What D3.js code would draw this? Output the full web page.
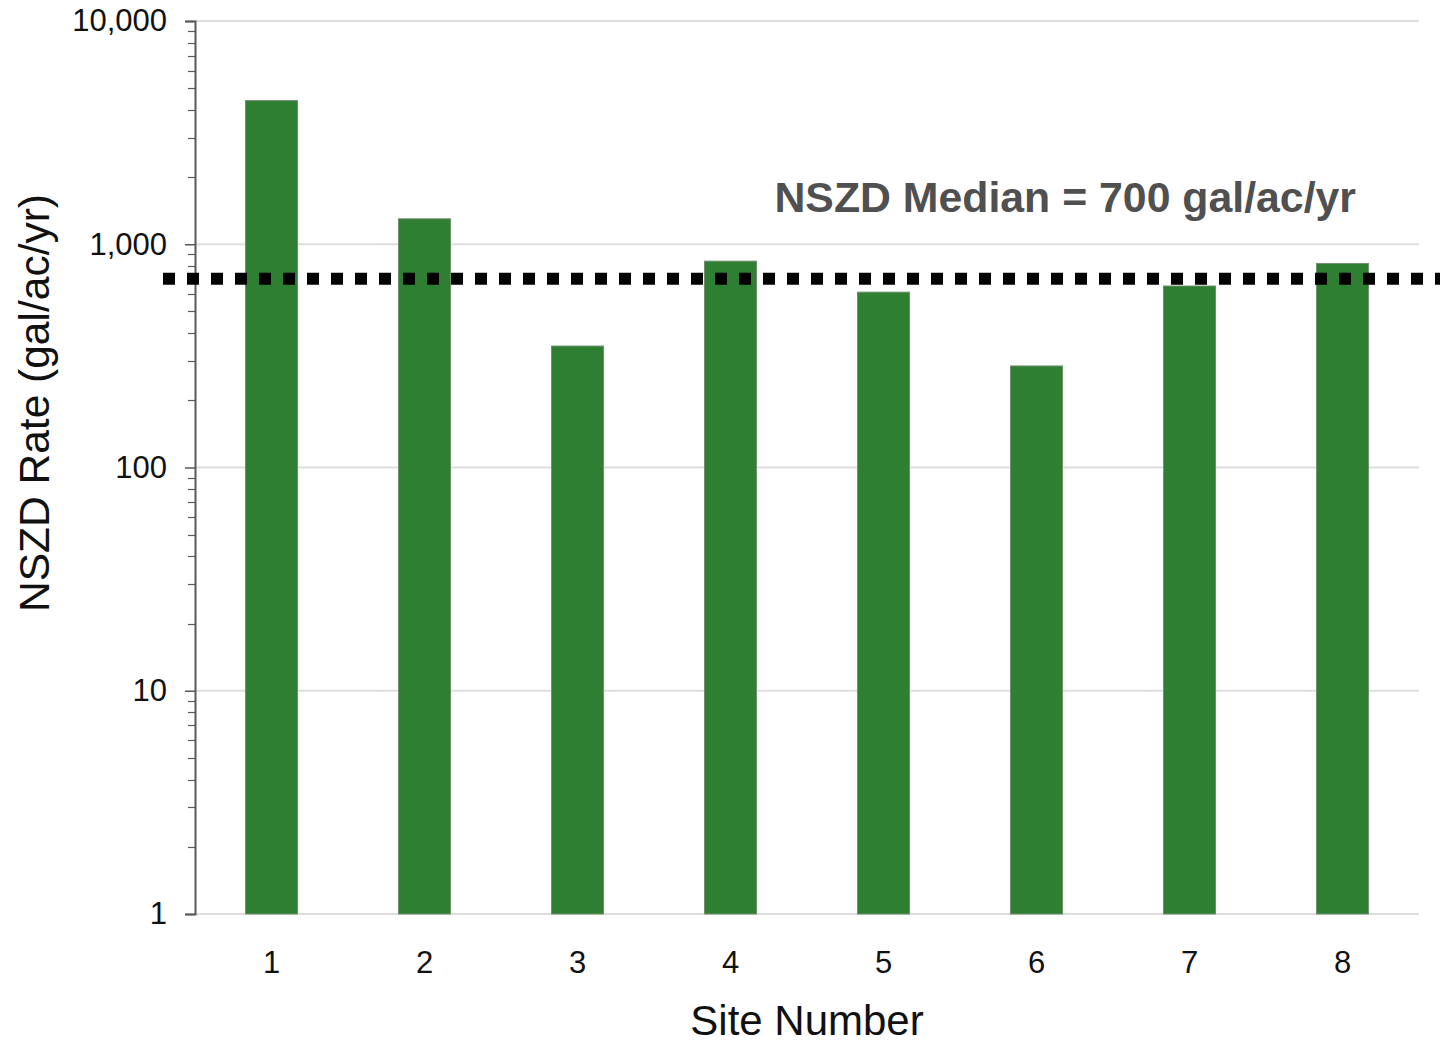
<!DOCTYPE html>
<html>
<head>
<meta charset="utf-8">
<script src="https://cdn.jsdelivr.net/npm/d3@7/dist/d3.min.js"></script>
<style>
  html, body { margin: 0; padding: 0; background: #fff; }
  svg { display: block; font-family: "Liberation Sans", Arial, sans-serif; }
</style>
</head>
<body>
<svg id="chart" width="1440" height="1044"></svg>
<script>
// NSZD rates by site (gal/ac/yr)
const sites = ["1", "2", "3", "4", "5", "6", "7", "8"];
const rates = [4400, 1300, 350, 840, 610, 285, 650, 820];
const medianRate = 700;
const yTickValues = [1, 10, 100, 1000, 10000];
const medianLabel = "NSZD Median = 700 gal/ac/yr";
const xTitle = "Site Number";
const yTitle = "NSZD Rate (gal/ac/yr)";

const svg = d3.select("#chart");
const margin = { left: 195, right: 21, top: 21, bottom: 130 };
const W = 1440, H = 1044;

const x = d3.scaleBand()
  .domain(sites)
  .range([margin.left, W - margin.right])
  .paddingInner(0.66)
  .paddingOuter(0.33);

const y = d3.scaleLog()
  .domain([1, 10000])
  .range([H - margin.bottom, margin.top]);

// Horizontal gridlines at each decade
svg.append("g")
  .selectAll("line")
  .data(yTickValues)
  .join("line")
  .attr("x1", margin.left)
  .attr("x2", W - margin.right)
  .attr("y1", d => y(d))
  .attr("y2", d => y(d))
  .attr("stroke", "#dedede")
  .attr("stroke-width", 2);

// Minor ticks (2..9 within each decade)
const minor = [];
for (let dec = 1; dec < 10000; dec *= 10) {
  for (let m = 2; m <= 9; m++) minor.push(dec * m);
}
svg.append("g")
  .selectAll("line")
  .data(minor)
  .join("line")
  .attr("x1", margin.left - 7)
  .attr("x2", margin.left)
  .attr("y1", d => Math.round(y(d)) + 0.5)
  .attr("y2", d => Math.round(y(d)) + 0.5)
  .attr("stroke", "#595959")
  .attr("stroke-width", 1.2);

// Y axis with major ticks and comma-formatted labels
const yAxis = d3.axisLeft(y)
  .tickValues(yTickValues)
  .tickFormat(d3.format(","))
  .tickSize(10)
  .tickPadding(18);
const gy = svg.append("g")
  .attr("transform", `translate(${margin.left},0)`)
  .call(yAxis);
gy.select(".domain").attr("stroke", "#595959").attr("stroke-width", 2);
gy.selectAll(".tick line").attr("stroke", "#595959").attr("stroke-width", 1.5);
gy.selectAll(".tick text")
  .attr("fill", "#111")
  .style("font-size", "31px")
  .style("font-family", "'Liberation Sans', Arial, sans-serif");

// Bars
svg.append("g")
  .selectAll("rect")
  .data(rates)
  .join("rect")
  .attr("x", (d, i) => x(sites[i]))
  .attr("width", x.bandwidth())
  .attr("y", d => y(d))
  .attr("height", d => y(1) - y(d))
  .attr("fill", "#2f7f32")
  .attr("stroke", "#6f8f6f")
  .attr("stroke-width", 1);

// X axis labels (no axis line ticks)
const xAxis = d3.axisBottom(x).tickSize(0).tickPadding(37);
const gx = svg.append("g")
  .attr("transform", `translate(0,${y(1)})`)
  .call(xAxis);
gx.select(".domain").remove();
gx.selectAll(".tick text")
  .attr("fill", "#111")
  .style("font-size", "31px")
  .style("font-family", "'Liberation Sans', Arial, sans-serif");

// Median reference line (dotted), drawn over the bars
svg.append("line")
  .attr("x1", 163)
  .attr("x2", W)
  .attr("y1", y(medianRate))
  .attr("y2", y(medianRate))
  .attr("stroke", "#000")
  .attr("stroke-width", 12)
  .attr("stroke-dasharray", "12 12");

// Median annotation
svg.append("text")
  .attr("x", 1356)
  .attr("y", 212)
  .attr("text-anchor", "end")
  .attr("fill", "#505050")
  .style("font-size", "42.8px")
  .style("font-weight", "bold")
  .text(medianLabel);

// Axis titles
svg.append("text")
  .attr("x", (margin.left + W - margin.right) / 2)
  .attr("y", 1035)
  .attr("text-anchor", "middle")
  .attr("fill", "#111")
  .style("font-size", "42px")
  .text(xTitle);

svg.append("text")
  .attr("transform", `translate(49,403) rotate(-90)`)
  .attr("text-anchor", "middle")
  .attr("fill", "#111")
  .style("font-size", "42.5px")
  .text(yTitle);
</script>
</body>
</html>
